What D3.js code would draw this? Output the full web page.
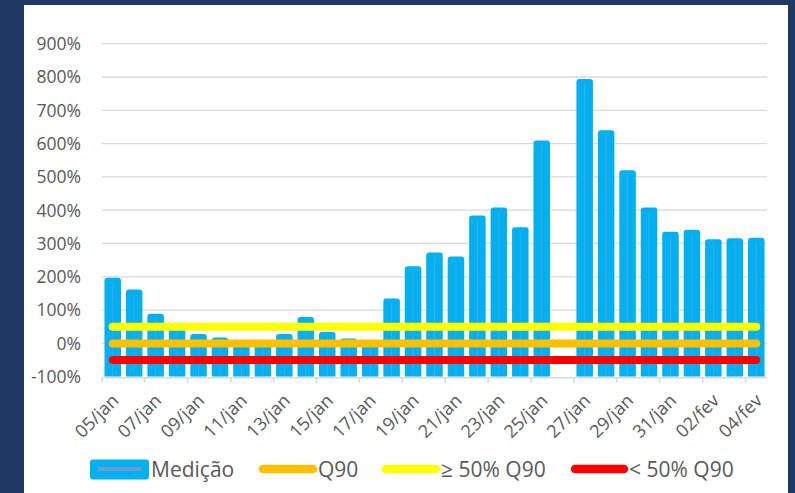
<!DOCTYPE html>
<html>
<head>
<meta charset="utf-8">
<script src="https://cdn.jsdelivr.net/npm/d3@7"></script>
<style>
  html, body { margin: 0; padding: 0; background: #203864; }
  svg { display: block; }
  text { font-family: "Open Sans", sans-serif; fill: #595959; }
</style>
</head>
<body>
<svg id="chart" width="795" height="493"></svg>
<script>
const categories = ["05/jan","06/jan","07/jan","08/jan","09/jan","10/jan","11/jan","12/jan","13/jan","14/jan",
  "15/jan","16/jan","17/jan","18/jan","19/jan","20/jan","21/jan","22/jan","23/jan","24/jan",
  "25/jan","26/jan","27/jan","28/jan","29/jan","30/jan","31/jan","01/fev","02/fev","03/fev","04/fev"];
const medicao = [197,162,89,46,28,18,3,2,28,79,34,15,4,135,232,273,261,384,408,349,609,null,794,640,520,408,335,341,313,316,317];
const q90 = 0;
const acima50 = 50;
const abaixo50 = -50;
const yTicks = [-100,0,100,200,300,400,500,600,700,800,900];
const legendLabels = ["Medição","Q90","≥ 50% Q90","< 50% Q90"];
const lineColors = {q90:"#FFC000", acima:"#FFFF00", abaixo:"#FF0000"};
const barColor = "#00B0F0";

const svg = d3.select("#chart");
svg.append("rect").attr("x",24).attr("y",5).attr("width",764).attr("height",488).attr("fill","#ffffff");

const x = d3.scaleBand().domain(categories).range([102,767]).paddingInner(0.23).paddingOuter(0.115);
const y = d3.scaleLinear().domain([-100,900]).range([376.7,43.7]);
const step = x.step();
const x0 = 102;

// gridlines
svg.append("g").selectAll("line").data(yTicks.filter(d=>d>-100)).join("line")
  .attr("x1",x0).attr("x2",767).attr("y1",d=>y(d)).attr("y2",d=>y(d))
  .attr("stroke","#d9d9d9").attr("stroke-width",1.3);

// y labels
svg.append("g").selectAll("text").data(yTicks).join("text")
  .attr("x",81).attr("y",d=>y(d)).attr("dy","0.36em").attr("text-anchor","end")
  .attr("font-size",17.5).text(d=>d+"%");

// bars
const bars = svg.append("g");
const valid = categories.map((c,i)=>({c,v:medicao[i]})).filter(d=>d.v!==null);
bars.selectAll("rect").data(valid).join("rect")
  .attr("x",d=>x(d.c)).attr("width",x.bandwidth())
  .attr("y",d=>y(d.v)).attr("height",d=>y(-100)+1-y(d.v))
  .attr("rx",3).attr("fill",barColor);
bars.selectAll("line").data(valid).join("line")
  .attr("x1",d=>x(d.c)+x.bandwidth()/2).attr("x2",d=>x(d.c)+x.bandwidth()/2)
  .attr("y1",d=>y(d.v)+4).attr("y2",y(-100))
  .attr("stroke","#7fa7d3").attr("stroke-width",0.8).attr("opacity",0.7);
bars.selectAll("line.base").data(valid).join("line").attr("class","base")
  .attr("x1",d=>x(d.c)).attr("x2",d=>x(d.c)+x.bandwidth())
  .attr("y1",y(-100)).attr("y2",y(-100))
  .attr("stroke","#9fdcf6").attr("stroke-width",1);

// x axis line + ticks
svg.append("line").attr("x1",x0).attr("x2",767).attr("y1",y(-100)+1).attr("y2",y(-100)+1)
  .attr("stroke","#d9d9d9").attr("stroke-width",1.5);
const tickIdx = d3.range(0,31,2);
svg.append("g").selectAll("line").data(tickIdx).join("line")
  .attr("x1",k=>x0+step*k).attr("x2",k=>x0+step*k)
  .attr("y1",y(-100)+1).attr("y2",y(-100)+6)
  .attr("stroke","#d9d9d9").attr("stroke-width",1.5);

// x labels
svg.append("g").selectAll("text").data(categories.filter((c,i)=>i%2===0)).join("text")
  .attr("text-anchor","end")
  .attr("transform",c=>`translate(${x(c)+x.bandwidth()/2+7},${y(-100)+25}) rotate(-45)`)
  .attr("font-size",18).text(c=>c);

// threshold lines
const first = x(categories[0])+x.bandwidth()/2;
const last = x(categories[categories.length-1])+x.bandwidth()/2;
[[acima50,lineColors.acima],[q90,lineColors.q90],[abaixo50,lineColors.abaixo]].forEach(([v,c])=>{
  svg.append("line").attr("x1",first).attr("x2",last).attr("y1",y(v)).attr("y2",y(v))
    .attr("stroke",c).attr("stroke-width",8).attr("stroke-linecap","round");
});

// legend
const ly = 469;
const lg = svg.append("g");
lg.append("rect").attr("x",90).attr("y",459.5).attr("width",59).attr("height",20).attr("rx",3).attr("fill",barColor);
lg.append("line").attr("x1",98).attr("x2",141.5).attr("y1",ly).attr("y2",ly).attr("stroke","#6e9bcf").attr("stroke-width",4);
lg.append("text").attr("x",151).attr("y",ly).attr("dy","0.36em").attr("font-size",21).text(legendLabels[0]);
const items = [[259,317,lineColors.q90,legendLabels[1]],[382,440,lineColors.acima,legendLabels[2]],[571,628,lineColors.abaixo,legendLabels[3]]];
items.forEach(([a,b,c,t])=>{
  lg.append("line").attr("x1",a+4).attr("x2",b-4).attr("y1",ly).attr("y2",ly)
    .attr("stroke",c).attr("stroke-width",8.5).attr("stroke-linecap","round");
  lg.append("text").attr("x",b+1).attr("y",ly).attr("dy","0.36em").attr("font-size",21).text(t);
});
</script>
</body>
</html>
